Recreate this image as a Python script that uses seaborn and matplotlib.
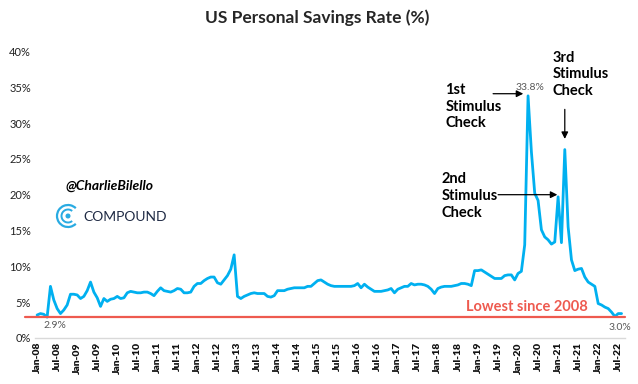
import matplotlib.pyplot as plt
import numpy as np
import pandas as pd
import seaborn as sns
from matplotlib.patches import Arc, Circle

# monthly US personal savings rate (%), Jan-08 .. Aug-22
rate_2008 = [3.2, 3.4, 3.3, 2.9, 7.2, 5.3, 4.1, 3.4, 3.9, 4.6, 6.1, 6.1]
rate_2009 = [6.0, 5.5, 5.8, 6.6, 7.8, 6.4, 5.6, 4.4, 5.5, 5.1, 5.4, 5.5]
rate_2010 = [5.8, 5.5, 5.6, 6.3, 6.5, 6.4, 6.3, 6.3, 6.4, 6.4, 6.2, 5.9]
rate_2011 = [6.5, 7.0, 6.6, 6.5, 6.4, 6.6, 6.9, 6.8, 6.3, 6.3, 6.4, 7.2]
rate_2012 = [7.6, 7.6, 8.0, 8.3, 8.5, 8.5, 7.7, 7.5, 8.1, 8.7, 9.6, 11.6]
rate_2013 = [5.8, 5.5, 5.8, 6.0, 6.2, 6.3, 6.2, 6.2, 6.2, 5.8, 5.7, 5.9]
rate_2014 = [6.6, 6.6, 6.6, 6.8, 6.9, 7.0, 7.0, 7.0, 7.0, 7.2, 7.2, 7.6]
rate_2015 = [8.0, 8.1, 7.8, 7.5, 7.3, 7.2, 7.2, 7.2, 7.2, 7.2, 7.2, 7.3]
rate_2016 = [7.6, 7.0, 7.5, 7.1, 6.8, 6.5, 6.5, 6.5, 6.6, 6.7, 6.9, 6.3]
rate_2017 = [6.8, 7.0, 7.2, 7.2, 7.6, 7.4, 7.5, 7.5, 7.4, 7.2, 6.8, 6.2]
rate_2018 = [6.9, 7.1, 7.2, 7.2, 7.2, 7.3, 7.4, 7.6, 7.6, 7.5, 7.3, 9.4]
rate_2019 = [9.4, 9.5, 9.2, 8.9, 8.6, 8.3, 8.3, 8.3, 8.7, 8.8, 8.8, 8.1]
rate_2020 = [9.0, 9.3, 13.0, 33.8, 26.0, 20.2, 19.2, 15.1, 14.1, 13.7, 13.1, 13.4]
rate_2021 = [19.7, 13.3, 26.3, 15.5, 10.9, 9.4, 9.6, 9.7, 8.5, 7.8, 7.5, 7.2]
rate_2022 = [4.8, 4.6, 4.3, 4.1, 3.6, 3.0, 3.4, 3.4]

savings_rate = (rate_2008 + rate_2009 + rate_2010 + rate_2011 + rate_2012 + rate_2013
                + rate_2014 + rate_2015 + rate_2016 + rate_2017 + rate_2018 + rate_2019
                + rate_2020 + rate_2021 + rate_2022)
lowest_level = 2.9
first_label = "2.9%"
last_label = "3.0%"

months = pd.date_range("2008-01-01", periods=len(savings_rate), freq="MS")
tick_pos = np.arange(0, len(savings_rate), 6)
tick_labels = [d.strftime("%b-%y") for d in months[::6]]

df = pd.DataFrame({"month": np.arange(len(savings_rate)), "rate": savings_rate})

sns.set_theme(style="white")
plt.rcParams["font.family"] = ["Lato", "DejaVu Sans"]

fig = plt.figure(figsize=(6.38, 3.84), dpi=100)
ax = fig.add_axes([0.055, 0.12, 0.925, 0.746])

sns.lineplot(data=df, x="month", y="rate", color="#00B0F0", linewidth=2.0, ax=ax)
ax.axhline(lowest_level, xmin=-0.017, xmax=1.0, color="#EE5A4F", linewidth=1.6, clip_on=False)

ax.set_xlim(-0.6, 176.1)
ax.set_ylim(0, 40)
ax.set_yticks(np.arange(0, 41, 5))
ax.set_yticklabels([f"{v}%" for v in range(0, 41, 5)], fontsize=8, color="#222222")
ax.set_xticks(tick_pos)
ax.set_xticklabels(tick_labels, rotation=90, fontsize=7.5, fontweight="heavy", color="#111111")
ax.tick_params(axis="both", length=0, pad=3)
ax.set_xlabel("")
ax.set_ylabel("")
for side in ["top", "right", "left"]:
    ax.spines[side].set_visible(False)
ax.spines["bottom"].set_color("#D9D9D9")
ax.spines["bottom"].set_linewidth(1.0)

# data labels
peak_idx = int(np.argmax(savings_rate))
peak_val = savings_rate[peak_idx]
ax.text(peak_idx + 0.6, peak_val + 1.2, f"{peak_val}%", ha="center", va="center", fontsize=7.5, color="#595959")
ax.text(5.3, 1.8, first_label, ha="center", va="center", fontsize=7.5, color="#595959")
ax.text(174.6, 1.5, last_label, ha="center", va="center", fontsize=7.5, color="#595959")
ax.text(146.7, 4.3, "Lowest since 2008", ha="center", va="center", fontsize=10.5,
        fontweight="bold", color="#EE5A4F")

# stimulus annotations
note_style = dict(fontsize=10.5, fontweight="bold", color="black", ha="left", va="center", linespacing=1.25)
arrow_style = dict(arrowstyle="-|>", color="black", lw=0.9, mutation_scale=10)
ax.text(122.2, 32.3, "1st\nStimulus\nCheck", **note_style)
ax.annotate("", xy=(peak_idx - 0.6, peak_val + 0.3), xytext=(135.7, peak_val + 0.3), arrowprops=arrow_style)

second_idx = 156
ax.text(121.2, 19.85, "2nd\nStimulus\nCheck", **note_style)
ax.annotate("", xy=(second_idx + 0.6, 20.0), xytext=(137.2, 20.0), arrowprops=arrow_style)

third_idx = 158
ax.text(154.3, 36.8, "3rd\nStimulus\nCheck", **note_style)
ax.annotate("", xy=(third_idx, savings_rate[third_idx] + 1.1), xytext=(third_idx, 32.3), arrowprops=arrow_style)

# title and branding
fig.text(0.497, 0.953, "US Personal Savings Rate (%)", ha="center", va="center", fontsize=12.5, fontweight="bold")
fig.text(0.102, 0.516, "@CharlieBilello", ha="left", va="center", fontsize=10, fontstyle="italic",
         fontweight="bold", color="black")
fig.text(0.130, 0.435, "COMPOUND", ha="left", va="center", fontsize=10, color="#1F2A44")
logo_c = (0.68, 1.68)
fig.patches.append(Arc(logo_c, 0.22, 0.22, theta1=45, theta2=315, color="#29ABE2", lw=1.6,
                       transform=fig.dpi_scale_trans, figure=fig))
fig.patches.append(Arc(logo_c, 0.13, 0.13, theta1=50, theta2=310, color="#29ABE2", lw=1.4,
                       transform=fig.dpi_scale_trans, figure=fig))
fig.patches.append(Circle(logo_c, 0.018, color="#29ABE2", transform=fig.dpi_scale_trans, figure=fig))

fig.savefig("out.png", dpi=100)
plt.close(fig)
